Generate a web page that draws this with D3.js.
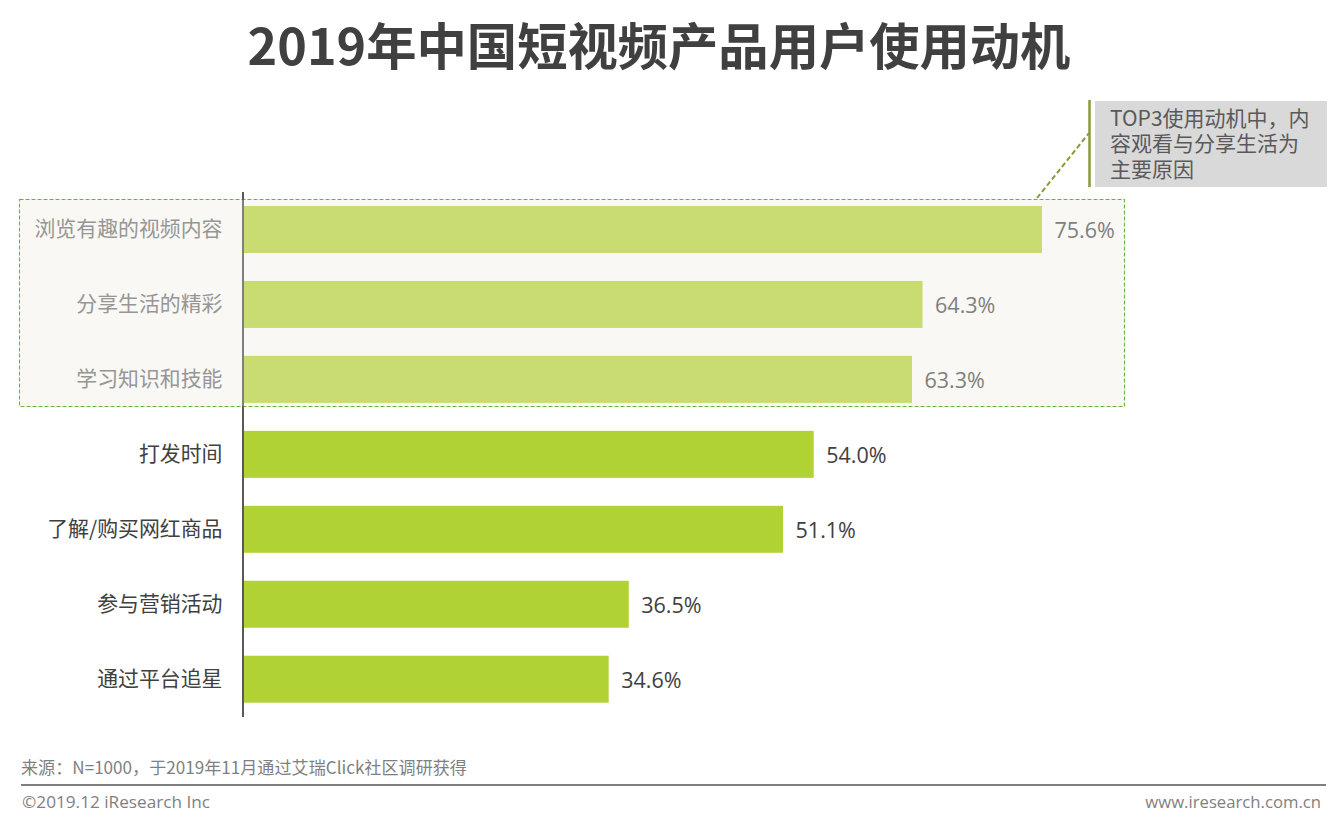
<!DOCTYPE html>
<html>
<head>
<meta charset="utf-8">
<script src="https://cdn.jsdelivr.net/npm/d3@7"></script>
<style>
  html, body { margin: 0; padding: 0; background: #fff; }
  svg { display: block; font-family: "Noto Sans CJK SC", "Open Sans", sans-serif; }
</style>
</head>
<body>
<svg width="1331" height="829"></svg>
<script>
var titleText = "2019年中国短视频产品用户使用动机";
var categories = ["浏览有趣的视频内容", "分享生活的精彩", "学习知识和技能", "打发时间", "了解/购买网红商品", "参与营销活动", "通过平台追星"];
var values = [75.6, 64.3, 63.3, 54.0, 51.1, 36.5, 34.6];
var topCount = 3;
var calloutLines = ["TOP3使用动机中，内", "容观看与分享生活为", "主要原因"];
var sourceText = "来源：N=1000，于2019年11月通过艾瑞Click社区调研获得";
var copyrightText = "©2019.12 iResearch Inc";
var siteText = "www.iresearch.com.cn";

var svg = d3.select("svg");

var x = d3.scaleLinear().domain([0, 75.6]).range([243, 1042]);
var y = d3.scaleBand().domain(categories).range([206, 702.7]).paddingInner(0.373).paddingOuter(0);

function isTop(i) { return i < topCount; }

// title
svg.append("text")
    .attr("x", 659).attr("y", 65)
    .attr("text-anchor", "middle")
    .style("font-size", "50.3px").style("font-weight", 700).style("fill", "#404040")
    .text(titleText);

// highlighted panel behind the top 3
svg.append("rect")
    .attr("x", 19.5).attr("y", 199.5).attr("width", 1105).attr("height", 207)
    .style("fill", "#f9f8f4")
    .style("stroke", "#6cb33e").style("stroke-width", 1.1).style("stroke-dasharray", "4,2");

// bars
svg.selectAll(".bar")
    .data(values)
    .enter().append("rect")
    .attr("class", "bar")
    .attr("x", x(0))
    .attr("y", function(d, i) { return y(categories[i]); })
    .attr("width", function(d) { return x(d) - x(0); })
    .attr("height", y.bandwidth())
    .style("fill", function(d, i) { return isTop(i) ? "#c9dc72" : "#b1d235"; });

// value labels
svg.selectAll(".value")
    .data(values)
    .enter().append("text")
    .attr("class", "value")
    .attr("x", function(d) { return x(d) + 12.5; })
    .attr("y", function(d, i) { return y(categories[i]) + y.bandwidth() / 2 + 9; })
    .style("font-family", "'Open Sans', sans-serif")
    .style("font-size", "21.5px")
    .style("fill", function(d, i) { return isTop(i) ? "#7f7f7f" : "#404040"; })
    .text(function(d) { return d.toFixed(1) + "%"; });

// category axis
var axis = svg.append("g")
    .attr("transform", "translate(243,0)")
    .call(d3.axisLeft(y).tickSize(0).tickPadding(20.5));
axis.select(".domain").remove();
axis.selectAll("text")
    .style("font-family", "'Noto Sans CJK SC', sans-serif")
    .style("font-size", "20.9px")
    .style("fill", function(d, i) { return isTop(i) ? "#969696" : "#404040"; })
    .attr("dy", "0.31em");

svg.append("line")
    .attr("x1", 243).attr("x2", 243).attr("y1", 192).attr("y2", 717)
    .style("stroke", "#595959").style("stroke-width", 2);
svg.append("line")
    .attr("x1", 243).attr("x2", 243).attr("y1", 200).attr("y2", 406)
    .style("stroke", "#7f7f7f").style("stroke-width", 2);

// callout
svg.append("line")
    .attr("x1", 1037).attr("y1", 198).attr("x2", 1089).attr("y2", 133)
    .style("stroke", "#8a9a33").style("stroke-width", 2).style("stroke-dasharray", "5,3");
svg.append("line")
    .attr("x1", 1089.5).attr("x2", 1089.5).attr("y1", 100).attr("y2", 187)
    .style("stroke", "#8a9a33").style("stroke-width", 2.5);
svg.append("rect")
    .attr("x", 1095).attr("y", 101).attr("width", 232).attr("height", 86)
    .style("fill", "#d9d9d9");
svg.append("text")
    .attr("class", "callout")
    .style("font-size", "21px").style("fill", "#595959")
    .selectAll("tspan")
    .data(calloutLines)
    .enter().append("tspan")
    .attr("x", 1110)
    .attr("y", function(d, i) { return 125.5 + i * 25.5; })
    .text(function(d) { return d; });

// footer
svg.append("text")
    .attr("x", 21).attr("y", 774)
    .style("font-size", "17.1px").style("fill", "#7f7f7f")
    .text(sourceText);
svg.append("line")
    .attr("x1", 21).attr("x2", 1326).attr("y1", 785).attr("y2", 785)
    .style("stroke", "#7f7f7f").style("stroke-width", 2);
svg.append("text")
    .attr("x", 22).attr("y", 808)
    .style("font-family", "'Open Sans', sans-serif")
    .style("font-size", "17.2px").style("fill", "#7f7f7f")
    .text(copyrightText);
svg.append("text")
    .attr("x", 1321).attr("y", 808)
    .attr("text-anchor", "end")
    .style("font-family", "'Open Sans', sans-serif")
    .style("font-size", "16.7px").style("fill", "#7f7f7f")
    .text(siteText);
</script>
</body>
</html>
